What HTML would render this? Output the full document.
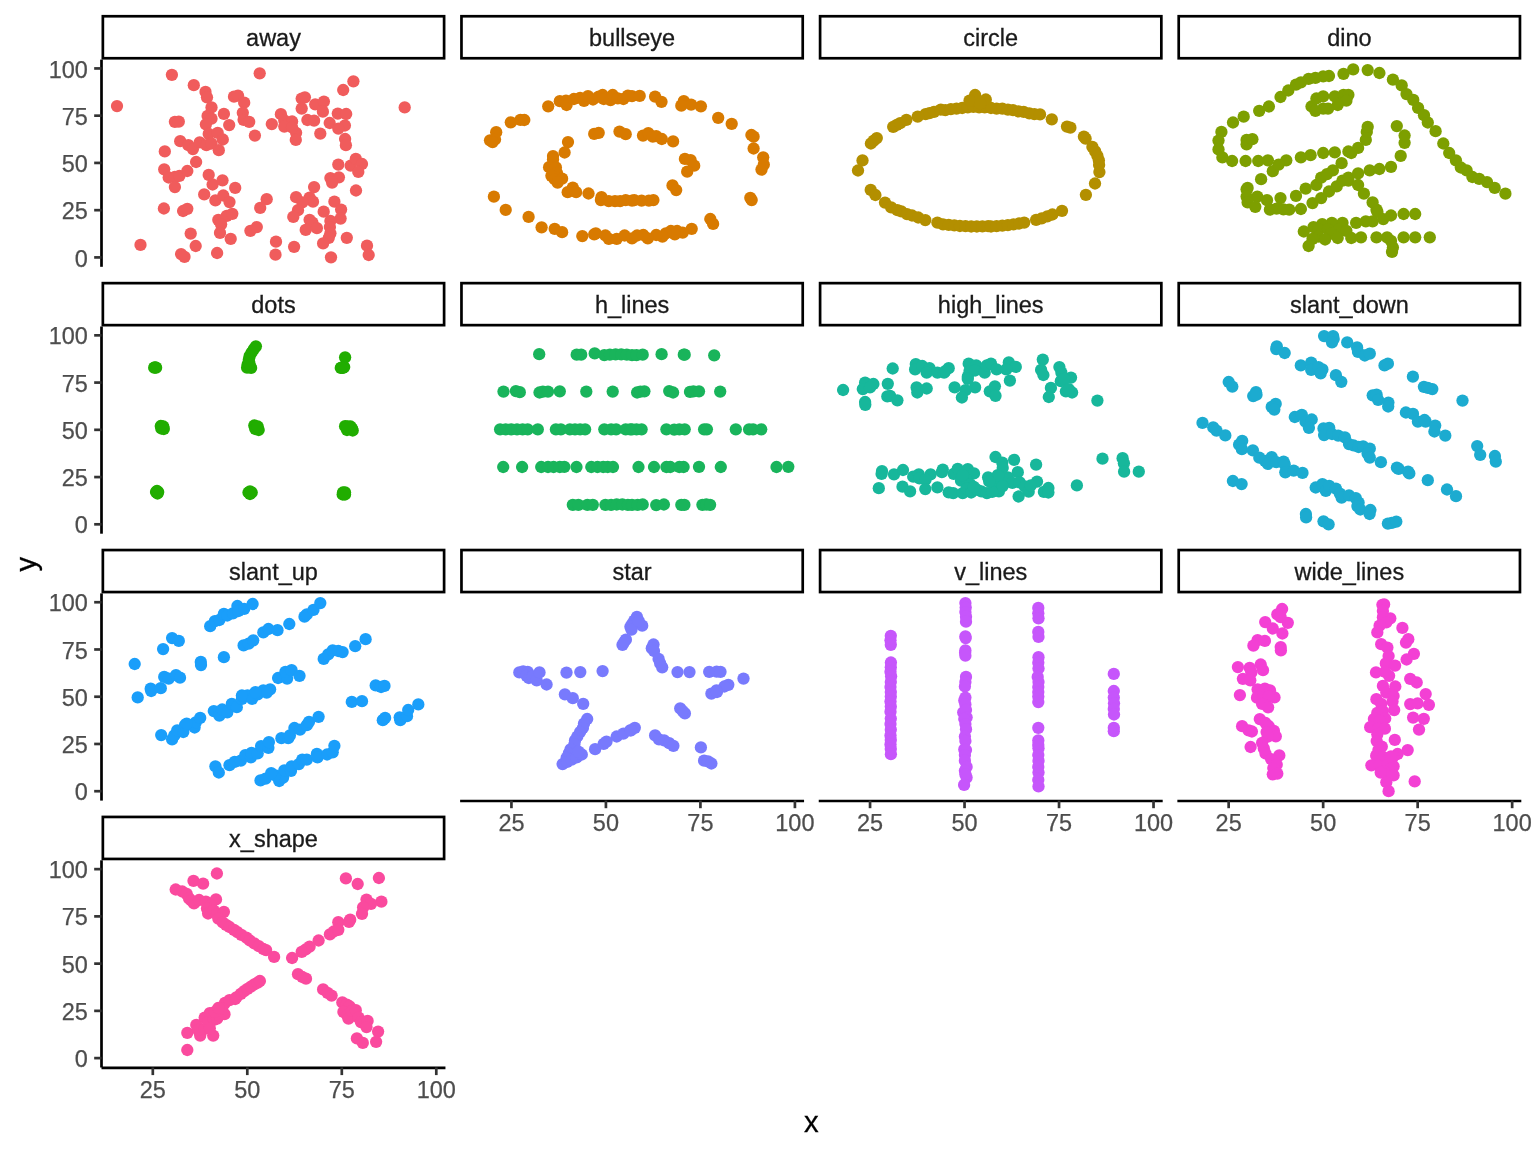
<!DOCTYPE html>
<html lang="en"><head><meta charset="utf-8"><title>Datasaurus Dozen</title>
<style>html,body{margin:0;padding:0;background:#fff}svg{display:block}text{font-family:"Liberation Sans",Arial,Helvetica,sans-serif}.st{font-size:23.47px;fill:#1a1a1a;stroke:#1a1a1a;stroke-width:.3px;text-anchor:middle}.ty{font-size:23.47px;fill:#4d4d4d;stroke:#4d4d4d;stroke-width:.25px;text-anchor:end}.tx{font-size:23.47px;fill:#4d4d4d;stroke:#4d4d4d;stroke-width:.25px;text-anchor:middle}.ti{font-size:29.33px;fill:#000;stroke:#000;stroke-width:.3px;text-anchor:middle}.ax{stroke:#000;stroke-width:2.70;fill:none;stroke-linecap:butt}.tk{stroke:#333;stroke-width:2.70;fill:none}.sb{stroke:#000;stroke-width:2.70;fill:#fff}</style></head><body>
<svg width="1536" height="1152" viewBox="0 0 1536 1152">
<rect width="1536" height="1152" fill="#fff"/>
<g id="p-away">
<g fill="#F05C5C"><circle cx="117.0" cy="106.1" r="6.15"/><circle cx="171.9" cy="74.8" r="6.15"/><circle cx="193.8" cy="85.2" r="6.15"/><circle cx="259.7" cy="73.3" r="6.15"/><circle cx="205.5" cy="91.9" r="6.15"/><circle cx="207.0" cy="97.3" r="6.15"/><circle cx="211.5" cy="107.4" r="6.15"/><circle cx="207.6" cy="115.9" r="6.15"/><circle cx="211.5" cy="118.7" r="6.15"/><circle cx="205.9" cy="124.3" r="6.15"/><circle cx="208.7" cy="133.9" r="6.15"/><circle cx="217.7" cy="132.8" r="6.15"/><circle cx="222.8" cy="139.5" r="6.15"/><circle cx="223.9" cy="113.9" r="6.15"/><circle cx="229.2" cy="125.1" r="6.15"/><circle cx="234.0" cy="96.7" r="6.15"/><circle cx="238.0" cy="95.6" r="6.15"/><circle cx="244.2" cy="102.7" r="6.15"/><circle cx="242.8" cy="112.8" r="6.15"/><circle cx="243.6" cy="119.8" r="6.15"/><circle cx="249.2" cy="121.8" r="6.15"/><circle cx="254.9" cy="135.6" r="6.15"/><circle cx="271.8" cy="124.1" r="6.15"/><circle cx="174.9" cy="121.8" r="6.15"/><circle cx="178.8" cy="121.6" r="6.15"/><circle cx="180.2" cy="141.2" r="6.15"/><circle cx="188.4" cy="145.2" r="6.15"/><circle cx="192.9" cy="149.1" r="6.15"/><circle cx="199.7" cy="142.3" r="6.15"/><circle cx="206.4" cy="145.2" r="6.15"/><circle cx="211.5" cy="143.5" r="6.15"/><circle cx="218.8" cy="150.2" r="6.15"/><circle cx="164.8" cy="151.4" r="6.15"/><circle cx="353.4" cy="81.3" r="6.15"/><circle cx="343.2" cy="90.0" r="6.15"/><circle cx="404.7" cy="107.4" r="6.15"/><circle cx="301.7" cy="98.6" r="6.15"/><circle cx="304.9" cy="97.3" r="6.15"/><circle cx="301.7" cy="108.6" r="6.15"/><circle cx="315.2" cy="104.3" r="6.15"/><circle cx="323.9" cy="101.6" r="6.15"/><circle cx="322.9" cy="111.7" r="6.15"/><circle cx="337.8" cy="113.6" r="6.15"/><circle cx="346.2" cy="114.0" r="6.15"/><circle cx="307.4" cy="120.0" r="6.15"/><circle cx="314.1" cy="120.7" r="6.15"/><circle cx="329.7" cy="123.0" r="6.15"/><circle cx="344.9" cy="125.5" r="6.15"/><circle cx="338.3" cy="128.6" r="6.15"/><circle cx="320.3" cy="133.6" r="6.15"/><circle cx="280.9" cy="114.2" r="6.15"/><circle cx="284.3" cy="120.4" r="6.15"/><circle cx="292.1" cy="121.5" r="6.15"/><circle cx="284.3" cy="126.6" r="6.15"/><circle cx="296.1" cy="132.8" r="6.15"/><circle cx="295.8" cy="139.9" r="6.15"/><circle cx="345.1" cy="139.0" r="6.15"/><circle cx="345.9" cy="145.2" r="6.15"/><circle cx="196.1" cy="162.0" r="6.15"/><circle cx="164.2" cy="169.3" r="6.15"/><circle cx="168.7" cy="177.5" r="6.15"/><circle cx="174.9" cy="177.0" r="6.15"/><circle cx="179.4" cy="175.8" r="6.15"/><circle cx="187.3" cy="171.0" r="6.15"/><circle cx="174.9" cy="187.1" r="6.15"/><circle cx="208.7" cy="174.9" r="6.15"/><circle cx="212.6" cy="184.5" r="6.15"/><circle cx="222.5" cy="180.3" r="6.15"/><circle cx="235.2" cy="187.9" r="6.15"/><circle cx="204.2" cy="194.4" r="6.15"/><circle cx="215.4" cy="200.4" r="6.15"/><circle cx="223.3" cy="195.5" r="6.15"/><circle cx="229.5" cy="202.1" r="6.15"/><circle cx="266.7" cy="199.2" r="6.15"/><circle cx="260.2" cy="207.9" r="6.15"/><circle cx="163.9" cy="208.5" r="6.15"/><circle cx="183.1" cy="211.0" r="6.15"/><circle cx="187.3" cy="208.8" r="6.15"/><circle cx="218.3" cy="219.8" r="6.15"/><circle cx="226.7" cy="215.8" r="6.15"/><circle cx="232.3" cy="213.8" r="6.15"/><circle cx="221.1" cy="224.3" r="6.15"/><circle cx="220.0" cy="232.9" r="6.15"/><circle cx="230.7" cy="238.9" r="6.15"/><circle cx="250.4" cy="230.8" r="6.15"/><circle cx="256.8" cy="227.1" r="6.15"/><circle cx="190.7" cy="233.6" r="6.15"/><circle cx="195.7" cy="246.0" r="6.15"/><circle cx="140.5" cy="244.9" r="6.15"/><circle cx="181.1" cy="254.1" r="6.15"/><circle cx="184.5" cy="256.9" r="6.15"/><circle cx="217.1" cy="253.0" r="6.15"/><circle cx="338.3" cy="164.6" r="6.15"/><circle cx="350.7" cy="165.7" r="6.15"/><circle cx="355.8" cy="158.9" r="6.15"/><circle cx="362.0" cy="164.0" r="6.15"/><circle cx="358.3" cy="171.9" r="6.15"/><circle cx="330.4" cy="178.1" r="6.15"/><circle cx="338.9" cy="177.3" r="6.15"/><circle cx="332.1" cy="182.6" r="6.15"/><circle cx="356.0" cy="190.5" r="6.15"/><circle cx="314.1" cy="187.1" r="6.15"/><circle cx="296.1" cy="197.2" r="6.15"/><circle cx="309.6" cy="197.6" r="6.15"/><circle cx="313.0" cy="201.7" r="6.15"/><circle cx="302.3" cy="202.3" r="6.15"/><circle cx="298.0" cy="210.2" r="6.15"/><circle cx="293.3" cy="216.9" r="6.15"/><circle cx="334.4" cy="201.7" r="6.15"/><circle cx="341.1" cy="209.6" r="6.15"/><circle cx="323.7" cy="211.7" r="6.15"/><circle cx="340.6" cy="218.6" r="6.15"/><circle cx="330.4" cy="220.9" r="6.15"/><circle cx="329.9" cy="227.1" r="6.15"/><circle cx="309.6" cy="219.8" r="6.15"/><circle cx="312.4" cy="222.6" r="6.15"/><circle cx="305.7" cy="229.9" r="6.15"/><circle cx="316.9" cy="228.2" r="6.15"/><circle cx="330.4" cy="233.3" r="6.15"/><circle cx="328.8" cy="237.8" r="6.15"/><circle cx="323.1" cy="243.4" r="6.15"/><circle cx="346.8" cy="237.8" r="6.15"/><circle cx="294.1" cy="246.8" r="6.15"/><circle cx="276.0" cy="241.7" r="6.15"/><circle cx="275.5" cy="254.7" r="6.15"/><circle cx="367.0" cy="245.7" r="6.15"/><circle cx="368.7" cy="255.0" r="6.15"/><circle cx="331.0" cy="257.3" r="6.15"/><circle cx="292.1" cy="127.5" r="6.15"/></g>
<rect class="sb" x="102.85" y="16.25" width="341.25" height="42.00"/>
<text class="st" x="273.48" y="45.80">away</text>
<path class="ax" d="M101.50 59.60V266.80"/>
<path class="tk" d="M94.17 257.41H101.50"/>
<text class="ty" x="87.90" y="266.51">0</text>
<path class="tk" d="M94.17 210.17H101.50"/>
<text class="ty" x="87.90" y="219.27">25</text>
<path class="tk" d="M94.17 162.93H101.50"/>
<text class="ty" x="87.90" y="172.03">50</text>
<path class="tk" d="M94.17 115.68H101.50"/>
<text class="ty" x="87.90" y="124.78">75</text>
<path class="tk" d="M94.17 68.44H101.50"/>
<text class="ty" x="87.90" y="77.54">100</text>
</g>
<g id="p-bullseye">
<g fill="#D87A00"><circle cx="548.2" cy="106.3" r="6.15"/><circle cx="559.8" cy="101.2" r="6.15"/><circle cx="566.0" cy="100.7" r="6.15"/><circle cx="566.6" cy="105.0" r="6.15"/><circle cx="573.9" cy="99.0" r="6.15"/><circle cx="580.1" cy="97.9" r="6.15"/><circle cx="584.0" cy="100.9" r="6.15"/><circle cx="588.0" cy="96.2" r="6.15"/><circle cx="593.0" cy="99.5" r="6.15"/><circle cx="598.7" cy="96.7" r="6.15"/><circle cx="602.6" cy="95.0" r="6.15"/><circle cx="603.7" cy="99.0" r="6.15"/><circle cx="610.5" cy="100.1" r="6.15"/><circle cx="612.7" cy="95.0" r="6.15"/><circle cx="617.8" cy="98.4" r="6.15"/><circle cx="623.4" cy="99.0" r="6.15"/><circle cx="627.9" cy="95.6" r="6.15"/><circle cx="632.0" cy="96.2" r="6.15"/><circle cx="510.8" cy="122.3" r="6.15"/><circle cx="520.4" cy="119.8" r="6.15"/><circle cx="524.3" cy="120.0" r="6.15"/><circle cx="496.2" cy="132.2" r="6.15"/><circle cx="490.0" cy="140.3" r="6.15"/><circle cx="495.0" cy="139.5" r="6.15"/><circle cx="492.6" cy="142.1" r="6.15"/><circle cx="594.2" cy="133.9" r="6.15"/><circle cx="598.7" cy="132.8" r="6.15"/><circle cx="619.5" cy="131.6" r="6.15"/><circle cx="625.7" cy="134.2" r="6.15"/><circle cx="568.0" cy="142.1" r="6.15"/><circle cx="564.6" cy="152.5" r="6.15"/><circle cx="639.7" cy="95.9" r="6.15"/><circle cx="655.1" cy="96.7" r="6.15"/><circle cx="661.5" cy="101.8" r="6.15"/><circle cx="683.8" cy="101.2" r="6.15"/><circle cx="681.3" cy="105.7" r="6.15"/><circle cx="691.1" cy="104.6" r="6.15"/><circle cx="700.9" cy="106.3" r="6.15"/><circle cx="718.2" cy="117.8" r="6.15"/><circle cx="731.7" cy="123.8" r="6.15"/><circle cx="751.4" cy="135.0" r="6.15"/><circle cx="753.6" cy="136.7" r="6.15"/><circle cx="753.6" cy="148.5" r="6.15"/><circle cx="643.0" cy="135.6" r="6.15"/><circle cx="648.3" cy="133.1" r="6.15"/><circle cx="652.8" cy="136.7" r="6.15"/><circle cx="656.2" cy="136.2" r="6.15"/><circle cx="661.8" cy="139.0" r="6.15"/><circle cx="673.1" cy="141.4" r="6.15"/><circle cx="553.0" cy="156.1" r="6.15"/><circle cx="553.0" cy="159.5" r="6.15"/><circle cx="549.1" cy="167.2" r="6.15"/><circle cx="555.9" cy="167.4" r="6.15"/><circle cx="557.0" cy="173.0" r="6.15"/><circle cx="551.4" cy="175.8" r="6.15"/><circle cx="554.7" cy="179.2" r="6.15"/><circle cx="562.1" cy="178.7" r="6.15"/><circle cx="557.6" cy="182.6" r="6.15"/><circle cx="572.8" cy="187.7" r="6.15"/><circle cx="567.7" cy="192.2" r="6.15"/><circle cx="576.1" cy="192.2" r="6.15"/><circle cx="588.5" cy="193.5" r="6.15"/><circle cx="601.5" cy="197.2" r="6.15"/><circle cx="600.9" cy="200.1" r="6.15"/><circle cx="608.8" cy="201.2" r="6.15"/><circle cx="615.0" cy="201.2" r="6.15"/><circle cx="620.1" cy="201.2" r="6.15"/><circle cx="625.7" cy="200.1" r="6.15"/><circle cx="632.0" cy="200.6" r="6.15"/><circle cx="493.9" cy="196.7" r="6.15"/><circle cx="505.7" cy="209.9" r="6.15"/><circle cx="528.6" cy="216.9" r="6.15"/><circle cx="541.6" cy="227.3" r="6.15"/><circle cx="554.7" cy="228.8" r="6.15"/><circle cx="562.1" cy="232.2" r="6.15"/><circle cx="582.3" cy="236.1" r="6.15"/><circle cx="594.2" cy="234.4" r="6.15"/><circle cx="595.8" cy="233.3" r="6.15"/><circle cx="605.4" cy="235.5" r="6.15"/><circle cx="608.8" cy="238.9" r="6.15"/><circle cx="616.7" cy="238.9" r="6.15"/><circle cx="624.6" cy="235.5" r="6.15"/><circle cx="632.0" cy="238.3" r="6.15"/><circle cx="684.9" cy="158.9" r="6.15"/><circle cx="690.6" cy="160.1" r="6.15"/><circle cx="694.2" cy="165.7" r="6.15"/><circle cx="687.2" cy="171.7" r="6.15"/><circle cx="672.5" cy="185.4" r="6.15"/><circle cx="676.2" cy="190.1" r="6.15"/><circle cx="634.3" cy="200.1" r="6.15"/><circle cx="641.6" cy="200.6" r="6.15"/><circle cx="648.9" cy="200.6" r="6.15"/><circle cx="653.4" cy="200.1" r="6.15"/><circle cx="763.2" cy="157.3" r="6.15"/><circle cx="763.8" cy="164.6" r="6.15"/><circle cx="761.5" cy="169.6" r="6.15"/><circle cx="750.3" cy="197.8" r="6.15"/><circle cx="751.7" cy="200.1" r="6.15"/><circle cx="710.3" cy="219.0" r="6.15"/><circle cx="713.1" cy="223.9" r="6.15"/><circle cx="691.7" cy="228.8" r="6.15"/><circle cx="682.7" cy="232.7" r="6.15"/><circle cx="677.1" cy="231.0" r="6.15"/><circle cx="670.9" cy="231.0" r="6.15"/><circle cx="674.8" cy="234.4" r="6.15"/><circle cx="665.8" cy="233.3" r="6.15"/><circle cx="662.4" cy="236.7" r="6.15"/><circle cx="656.2" cy="235.0" r="6.15"/><circle cx="647.8" cy="238.3" r="6.15"/><circle cx="643.3" cy="235.0" r="6.15"/><circle cx="637.1" cy="235.5" r="6.15"/></g>
<rect class="sb" x="461.47" y="16.25" width="341.25" height="42.00"/>
<text class="st" x="632.10" y="45.80">bullseye</text>
</g>
<g id="p-circle">
<g fill="#B38F00"><circle cx="870.9" cy="143.5" r="6.15"/><circle cx="873.8" cy="140.7" r="6.15"/><circle cx="876.8" cy="138.1" r="6.15"/><circle cx="893.2" cy="126.8" r="6.15"/><circle cx="896.8" cy="124.9" r="6.15"/><circle cx="900.2" cy="123.2" r="6.15"/><circle cx="906.4" cy="119.8" r="6.15"/><circle cx="917.7" cy="116.7" r="6.15"/><circle cx="925.6" cy="114.2" r="6.15"/><circle cx="929.5" cy="113.1" r="6.15"/><circle cx="934.0" cy="111.9" r="6.15"/><circle cx="940.8" cy="109.7" r="6.15"/><circle cx="945.3" cy="110.2" r="6.15"/><circle cx="950.9" cy="109.1" r="6.15"/><circle cx="956.5" cy="108.6" r="6.15"/><circle cx="962.2" cy="108.0" r="6.15"/><circle cx="967.8" cy="107.4" r="6.15"/><circle cx="973.4" cy="106.9" r="6.15"/><circle cx="979.1" cy="107.4" r="6.15"/><circle cx="984.7" cy="107.4" r="6.15"/><circle cx="991.0" cy="108.0" r="6.15"/><circle cx="975.1" cy="95.0" r="6.15"/><circle cx="969.5" cy="100.7" r="6.15"/><circle cx="985.8" cy="99.5" r="6.15"/><circle cx="980.2" cy="103.5" r="6.15"/><circle cx="996.6" cy="108.6" r="6.15"/><circle cx="1002.3" cy="108.6" r="6.15"/><circle cx="1007.9" cy="109.7" r="6.15"/><circle cx="1013.0" cy="110.2" r="6.15"/><circle cx="1018.6" cy="111.4" r="6.15"/><circle cx="1023.7" cy="111.9" r="6.15"/><circle cx="1029.3" cy="113.3" r="6.15"/><circle cx="1034.4" cy="114.2" r="6.15"/><circle cx="1040.0" cy="114.4" r="6.15"/><circle cx="1051.8" cy="119.3" r="6.15"/><circle cx="1067.0" cy="126.6" r="6.15"/><circle cx="1070.4" cy="127.7" r="6.15"/><circle cx="1083.9" cy="136.7" r="6.15"/><circle cx="1085.6" cy="138.7" r="6.15"/><circle cx="1092.4" cy="146.9" r="6.15"/><circle cx="1095.2" cy="151.4" r="6.15"/><circle cx="1097.4" cy="155.9" r="6.15"/><circle cx="1098.9" cy="160.4" r="6.15"/><circle cx="862.5" cy="160.4" r="6.15"/><circle cx="858.0" cy="170.5" r="6.15"/><circle cx="870.7" cy="189.9" r="6.15"/><circle cx="875.4" cy="195.0" r="6.15"/><circle cx="885.0" cy="202.6" r="6.15"/><circle cx="891.2" cy="207.4" r="6.15"/><circle cx="897.4" cy="210.2" r="6.15"/><circle cx="901.3" cy="211.3" r="6.15"/><circle cx="907.0" cy="214.1" r="6.15"/><circle cx="912.0" cy="215.5" r="6.15"/><circle cx="925.3" cy="220.1" r="6.15"/><circle cx="937.4" cy="222.6" r="6.15"/><circle cx="943.0" cy="224.3" r="6.15"/><circle cx="948.7" cy="224.8" r="6.15"/><circle cx="954.3" cy="225.4" r="6.15"/><circle cx="959.9" cy="226.0" r="6.15"/><circle cx="965.5" cy="226.2" r="6.15"/><circle cx="971.2" cy="226.5" r="6.15"/><circle cx="976.8" cy="226.5" r="6.15"/><circle cx="982.4" cy="226.3" r="6.15"/><circle cx="988.1" cy="226.2" r="6.15"/><circle cx="991.0" cy="226.5" r="6.15"/><circle cx="996.6" cy="226.2" r="6.15"/><circle cx="1002.3" cy="225.7" r="6.15"/><circle cx="1007.9" cy="225.1" r="6.15"/><circle cx="1013.5" cy="224.3" r="6.15"/><circle cx="1019.2" cy="223.5" r="6.15"/><circle cx="1024.2" cy="222.6" r="6.15"/><circle cx="1036.1" cy="219.8" r="6.15"/><circle cx="1041.7" cy="218.3" r="6.15"/><circle cx="1047.3" cy="216.4" r="6.15"/><circle cx="1052.4" cy="214.5" r="6.15"/><circle cx="1062.0" cy="210.8" r="6.15"/><circle cx="1085.9" cy="194.8" r="6.15"/><circle cx="1095.0" cy="183.5" r="6.15"/><circle cx="1099.4" cy="172.1" r="6.15"/><circle cx="1099.1" cy="165.1" r="6.15"/><circle cx="918.2" cy="217.5" r="6.15"/></g>
<rect class="sb" x="820.09" y="16.25" width="341.25" height="42.00"/>
<text class="st" x="990.72" y="45.80">circle</text>
</g>
<g id="p-dino">
<g fill="#7D9F00"><circle cx="1343.5" cy="73.8" r="6.15"/><circle cx="1329.0" cy="76.0" r="6.15"/><circle cx="1308.6" cy="78.9" r="6.15"/><circle cx="1296.0" cy="84.7" r="6.15"/><circle cx="1288.3" cy="90.5" r="6.15"/><circle cx="1280.5" cy="97.0" r="6.15"/><circle cx="1268.9" cy="106.5" r="6.15"/><circle cx="1259.2" cy="110.8" r="6.15"/><circle cx="1243.7" cy="116.7" r="6.15"/><circle cx="1233.0" cy="122.5" r="6.15"/><circle cx="1221.4" cy="131.9" r="6.15"/><circle cx="1218.5" cy="140.6" r="6.15"/><circle cx="1218.5" cy="149.4" r="6.15"/><circle cx="1222.4" cy="157.4" r="6.15"/><circle cx="1232.1" cy="161.0" r="6.15"/><circle cx="1245.6" cy="161.0" r="6.15"/><circle cx="1258.2" cy="161.0" r="6.15"/><circle cx="1267.9" cy="160.3" r="6.15"/><circle cx="1286.3" cy="160.3" r="6.15"/><circle cx="1300.9" cy="157.4" r="6.15"/><circle cx="1310.6" cy="155.2" r="6.15"/><circle cx="1323.2" cy="153.0" r="6.15"/><circle cx="1334.8" cy="152.3" r="6.15"/><circle cx="1348.4" cy="151.5" r="6.15"/><circle cx="1358.1" cy="147.9" r="6.15"/><circle cx="1365.8" cy="139.9" r="6.15"/><circle cx="1366.8" cy="131.9" r="6.15"/><circle cx="1367.7" cy="126.8" r="6.15"/><circle cx="1351.3" cy="153.0" r="6.15"/><circle cx="1341.6" cy="163.2" r="6.15"/><circle cx="1332.9" cy="170.4" r="6.15"/><circle cx="1316.4" cy="185.0" r="6.15"/><circle cx="1321.2" cy="177.7" r="6.15"/><circle cx="1327.0" cy="174.1" r="6.15"/><circle cx="1305.7" cy="188.6" r="6.15"/><circle cx="1296.0" cy="195.9" r="6.15"/><circle cx="1280.5" cy="198.1" r="6.15"/><circle cx="1267.0" cy="200.2" r="6.15"/><circle cx="1257.3" cy="196.6" r="6.15"/><circle cx="1247.6" cy="187.9" r="6.15"/><circle cx="1261.1" cy="179.2" r="6.15"/><circle cx="1272.8" cy="171.2" r="6.15"/><circle cx="1278.6" cy="164.6" r="6.15"/><circle cx="1246.6" cy="189.3" r="6.15"/><circle cx="1246.6" cy="196.6" r="6.15"/><circle cx="1247.6" cy="202.4" r="6.15"/><circle cx="1255.3" cy="206.8" r="6.15"/><circle cx="1269.9" cy="209.7" r="6.15"/><circle cx="1289.2" cy="209.7" r="6.15"/><circle cx="1300.9" cy="209.0" r="6.15"/><circle cx="1312.5" cy="203.1" r="6.15"/><circle cx="1321.2" cy="198.1" r="6.15"/><circle cx="1329.0" cy="191.5" r="6.15"/><circle cx="1336.7" cy="186.4" r="6.15"/><circle cx="1342.5" cy="180.6" r="6.15"/><circle cx="1348.4" cy="177.7" r="6.15"/><circle cx="1358.1" cy="173.3" r="6.15"/><circle cx="1369.7" cy="170.4" r="6.15"/><circle cx="1379.4" cy="169.0" r="6.15"/><circle cx="1391.0" cy="166.8" r="6.15"/><circle cx="1400.7" cy="155.9" r="6.15"/><circle cx="1404.6" cy="142.8" r="6.15"/><circle cx="1404.6" cy="135.5" r="6.15"/><circle cx="1396.8" cy="126.1" r="6.15"/><circle cx="1311.5" cy="106.5" r="6.15"/><circle cx="1316.4" cy="98.5" r="6.15"/><circle cx="1323.2" cy="96.3" r="6.15"/><circle cx="1334.8" cy="96.3" r="6.15"/><circle cx="1343.5" cy="94.8" r="6.15"/><circle cx="1348.4" cy="94.8" r="6.15"/><circle cx="1346.4" cy="100.7" r="6.15"/><circle cx="1337.7" cy="105.0" r="6.15"/><circle cx="1328.0" cy="108.7" r="6.15"/><circle cx="1323.2" cy="108.7" r="6.15"/><circle cx="1315.4" cy="110.8" r="6.15"/><circle cx="1246.6" cy="144.3" r="6.15"/><circle cx="1246.6" cy="139.9" r="6.15"/><circle cx="1252.4" cy="139.2" r="6.15"/><circle cx="1353.2" cy="69.4" r="6.15"/><circle cx="1367.7" cy="70.1" r="6.15"/><circle cx="1379.4" cy="73.0" r="6.15"/><circle cx="1392.9" cy="79.6" r="6.15"/><circle cx="1401.7" cy="85.4" r="6.15"/><circle cx="1406.5" cy="94.1" r="6.15"/><circle cx="1413.3" cy="99.9" r="6.15"/><circle cx="1418.1" cy="107.9" r="6.15"/><circle cx="1424.0" cy="115.2" r="6.15"/><circle cx="1427.8" cy="122.5" r="6.15"/><circle cx="1435.6" cy="131.2" r="6.15"/><circle cx="1443.3" cy="143.5" r="6.15"/><circle cx="1449.2" cy="153.0" r="6.15"/><circle cx="1455.9" cy="160.3" r="6.15"/><circle cx="1460.8" cy="167.5" r="6.15"/><circle cx="1466.6" cy="170.4" r="6.15"/><circle cx="1472.4" cy="177.0" r="6.15"/><circle cx="1487.0" cy="182.1" r="6.15"/><circle cx="1494.7" cy="187.9" r="6.15"/><circle cx="1505.4" cy="193.7" r="6.15"/><circle cx="1348.4" cy="180.6" r="6.15"/><circle cx="1358.1" cy="185.0" r="6.15"/><circle cx="1363.9" cy="193.7" r="6.15"/><circle cx="1372.6" cy="202.4" r="6.15"/><circle cx="1376.5" cy="209.7" r="6.15"/><circle cx="1377.4" cy="211.9" r="6.15"/><circle cx="1415.2" cy="214.0" r="6.15"/><circle cx="1403.6" cy="214.0" r="6.15"/><circle cx="1391.0" cy="215.5" r="6.15"/><circle cx="1383.3" cy="219.1" r="6.15"/><circle cx="1372.6" cy="221.3" r="6.15"/><circle cx="1365.8" cy="221.3" r="6.15"/><circle cx="1356.1" cy="222.8" r="6.15"/><circle cx="1342.5" cy="222.8" r="6.15"/><circle cx="1331.9" cy="222.8" r="6.15"/><circle cx="1322.2" cy="224.2" r="6.15"/><circle cx="1313.5" cy="227.1" r="6.15"/><circle cx="1303.8" cy="231.5" r="6.15"/><circle cx="1318.3" cy="229.3" r="6.15"/><circle cx="1328.0" cy="229.3" r="6.15"/><circle cx="1338.7" cy="229.3" r="6.15"/><circle cx="1346.4" cy="230.8" r="6.15"/><circle cx="1330.9" cy="233.7" r="6.15"/><circle cx="1318.3" cy="236.6" r="6.15"/><circle cx="1312.5" cy="238.8" r="6.15"/><circle cx="1308.6" cy="246.0" r="6.15"/><circle cx="1325.1" cy="239.5" r="6.15"/><circle cx="1337.7" cy="238.0" r="6.15"/><circle cx="1351.3" cy="238.0" r="6.15"/><circle cx="1361.0" cy="237.3" r="6.15"/><circle cx="1376.5" cy="237.3" r="6.15"/><circle cx="1387.1" cy="237.3" r="6.15"/><circle cx="1403.6" cy="237.3" r="6.15"/><circle cx="1415.2" cy="237.3" r="6.15"/><circle cx="1429.8" cy="237.3" r="6.15"/><circle cx="1391.0" cy="240.9" r="6.15"/><circle cx="1392.9" cy="247.5" r="6.15"/><circle cx="1392.0" cy="251.8" r="6.15"/><circle cx="1276.6" cy="208.7" r="6.15"/><circle cx="1283.4" cy="209.4" r="6.15"/><circle cx="1479.2" cy="178.9" r="6.15"/><circle cx="1323.2" cy="76.4" r="6.15"/><circle cx="1315.4" cy="77.9" r="6.15"/><circle cx="1300.9" cy="82.3" r="6.15"/></g>
<rect class="sb" x="1178.71" y="16.25" width="341.25" height="42.00"/>
<text class="st" x="1349.34" y="45.80">dino</text>
</g>
<g id="p-dots">
<g fill="#21AD00"><circle cx="154.2" cy="367.7" r="6.15"/><circle cx="156.1" cy="367.7" r="6.15"/><circle cx="155.1" cy="367.4" r="6.15"/><circle cx="255.9" cy="346.3" r="6.15"/><circle cx="253.9" cy="349.1" r="6.15"/><circle cx="251.6" cy="352.5" r="6.15"/><circle cx="249.6" cy="356.2" r="6.15"/><circle cx="248.8" cy="359.8" r="6.15"/><circle cx="247.7" cy="364.3" r="6.15"/><circle cx="247.1" cy="367.7" r="6.15"/><circle cx="251.1" cy="367.9" r="6.15"/><circle cx="249.4" cy="363.2" r="6.15"/><circle cx="160.8" cy="426.0" r="6.15"/><circle cx="163.8" cy="429.0" r="6.15"/><circle cx="162.3" cy="427.4" r="6.15"/><circle cx="254.3" cy="425.5" r="6.15"/><circle cx="256.5" cy="427.7" r="6.15"/><circle cx="258.7" cy="430.0" r="6.15"/><circle cx="156.0" cy="492.0" r="6.15"/><circle cx="158.2" cy="492.1" r="6.15"/><circle cx="157.1" cy="492.0" r="6.15"/><circle cx="248.5" cy="492.5" r="6.15"/><circle cx="251.7" cy="492.5" r="6.15"/><circle cx="250.1" cy="492.5" r="6.15"/><circle cx="345.1" cy="426.2" r="6.15"/><circle cx="352.7" cy="430.5" r="6.15"/><circle cx="349.0" cy="428.0" r="6.15"/><circle cx="342.7" cy="494.5" r="6.15"/><circle cx="345.0" cy="492.3" r="6.15"/><circle cx="343.9" cy="493.4" r="6.15"/><circle cx="345.1" cy="357.3" r="6.15"/><circle cx="341.7" cy="367.7" r="6.15"/><circle cx="344.2" cy="367.1" r="6.15"/><circle cx="342.8" cy="367.9" r="6.15"/><circle cx="161.3" cy="428.5" r="6.15"/><circle cx="163.3" cy="426.5" r="6.15"/><circle cx="255.3" cy="429.0" r="6.15"/><circle cx="257.7" cy="426.5" r="6.15"/><circle cx="347.0" cy="430.0" r="6.15"/><circle cx="350.5" cy="426.5" r="6.15"/><circle cx="352.0" cy="428.5" r="6.15"/><circle cx="347.5" cy="426.5" r="6.15"/><circle cx="157.0" cy="491.0" r="6.15"/><circle cx="157.5" cy="493.5" r="6.15"/><circle cx="250.0" cy="491.5" r="6.15"/><circle cx="250.0" cy="494.0" r="6.15"/><circle cx="343.0" cy="492.5" r="6.15"/><circle cx="345.0" cy="494.5" r="6.15"/><circle cx="344.5" cy="493.5" r="6.15"/><circle cx="340.8" cy="367.9" r="6.15"/></g>
<rect class="sb" x="102.85" y="283.15" width="341.25" height="42.00"/>
<text class="st" x="273.48" y="312.70">dots</text>
<path class="ax" d="M101.50 326.50V533.70"/>
<path class="tk" d="M94.17 524.31H101.50"/>
<text class="ty" x="87.90" y="533.41">0</text>
<path class="tk" d="M94.17 477.07H101.50"/>
<text class="ty" x="87.90" y="486.17">25</text>
<path class="tk" d="M94.17 429.83H101.50"/>
<text class="ty" x="87.90" y="438.93">50</text>
<path class="tk" d="M94.17 382.58H101.50"/>
<text class="ty" x="87.90" y="391.68">75</text>
<path class="tk" d="M94.17 335.34H101.50"/>
<text class="ty" x="87.90" y="344.44">100</text>
</g>
<g id="p-h_lines">
<g fill="#19B45B"><circle cx="539.2" cy="354.2" r="6.15"/><circle cx="576.7" cy="354.7" r="6.15"/><circle cx="581.2" cy="354.7" r="6.15"/><circle cx="594.7" cy="353.4" r="6.15"/><circle cx="604.3" cy="355.1" r="6.15"/><circle cx="609.9" cy="354.7" r="6.15"/><circle cx="615.6" cy="354.4" r="6.15"/><circle cx="621.2" cy="354.4" r="6.15"/><circle cx="626.8" cy="354.7" r="6.15"/><circle cx="632.0" cy="355.1" r="6.15"/><circle cx="503.5" cy="391.6" r="6.15"/><circle cx="515.9" cy="391.1" r="6.15"/><circle cx="519.8" cy="392.2" r="6.15"/><circle cx="539.5" cy="392.5" r="6.15"/><circle cx="542.9" cy="391.6" r="6.15"/><circle cx="548.0" cy="391.6" r="6.15"/><circle cx="559.8" cy="391.3" r="6.15"/><circle cx="586.3" cy="391.6" r="6.15"/><circle cx="612.7" cy="391.6" r="6.15"/><circle cx="636.5" cy="355.1" r="6.15"/><circle cx="642.7" cy="354.7" r="6.15"/><circle cx="661.6" cy="354.2" r="6.15"/><circle cx="683.8" cy="354.7" r="6.15"/><circle cx="684.7" cy="354.7" r="6.15"/><circle cx="714.2" cy="355.3" r="6.15"/><circle cx="637.1" cy="392.5" r="6.15"/><circle cx="640.4" cy="391.6" r="6.15"/><circle cx="644.4" cy="391.3" r="6.15"/><circle cx="669.2" cy="391.1" r="6.15"/><circle cx="673.1" cy="392.5" r="6.15"/><circle cx="690.0" cy="391.9" r="6.15"/><circle cx="693.4" cy="391.3" r="6.15"/><circle cx="699.0" cy="391.3" r="6.15"/><circle cx="720.2" cy="391.6" r="6.15"/><circle cx="500.1" cy="429.3" r="6.15"/><circle cx="505.7" cy="429.3" r="6.15"/><circle cx="511.4" cy="429.3" r="6.15"/><circle cx="517.0" cy="429.3" r="6.15"/><circle cx="522.6" cy="429.3" r="6.15"/><circle cx="527.7" cy="429.3" r="6.15"/><circle cx="537.8" cy="429.3" r="6.15"/><circle cx="555.9" cy="429.3" r="6.15"/><circle cx="560.9" cy="429.3" r="6.15"/><circle cx="569.9" cy="429.3" r="6.15"/><circle cx="575.0" cy="429.3" r="6.15"/><circle cx="580.1" cy="429.3" r="6.15"/><circle cx="585.1" cy="429.3" r="6.15"/><circle cx="604.3" cy="429.3" r="6.15"/><circle cx="611.1" cy="429.3" r="6.15"/><circle cx="616.1" cy="429.3" r="6.15"/><circle cx="625.7" cy="429.3" r="6.15"/><circle cx="630.2" cy="429.3" r="6.15"/><circle cx="503.2" cy="467.0" r="6.15"/><circle cx="522.1" cy="467.0" r="6.15"/><circle cx="541.2" cy="467.0" r="6.15"/><circle cx="548.0" cy="467.0" r="6.15"/><circle cx="553.6" cy="467.0" r="6.15"/><circle cx="559.8" cy="467.0" r="6.15"/><circle cx="564.3" cy="466.8" r="6.15"/><circle cx="576.5" cy="467.0" r="6.15"/><circle cx="591.3" cy="467.0" r="6.15"/><circle cx="597.5" cy="467.0" r="6.15"/><circle cx="603.2" cy="467.0" r="6.15"/><circle cx="607.7" cy="467.0" r="6.15"/><circle cx="613.0" cy="467.0" r="6.15"/><circle cx="572.8" cy="504.8" r="6.15"/><circle cx="578.4" cy="504.8" r="6.15"/><circle cx="587.4" cy="504.8" r="6.15"/><circle cx="592.8" cy="504.8" r="6.15"/><circle cx="605.4" cy="504.8" r="6.15"/><circle cx="611.1" cy="504.8" r="6.15"/><circle cx="616.7" cy="504.5" r="6.15"/><circle cx="622.3" cy="504.5" r="6.15"/><circle cx="627.9" cy="504.8" r="6.15"/><circle cx="632.0" cy="504.8" r="6.15"/><circle cx="632.0" cy="429.3" r="6.15"/><circle cx="636.5" cy="429.3" r="6.15"/><circle cx="641.6" cy="429.3" r="6.15"/><circle cx="666.4" cy="429.3" r="6.15"/><circle cx="674.2" cy="429.6" r="6.15"/><circle cx="679.3" cy="429.3" r="6.15"/><circle cx="684.7" cy="429.3" r="6.15"/><circle cx="704.1" cy="429.3" r="6.15"/><circle cx="706.9" cy="429.3" r="6.15"/><circle cx="735.8" cy="429.3" r="6.15"/><circle cx="749.1" cy="429.3" r="6.15"/><circle cx="753.1" cy="429.3" r="6.15"/><circle cx="761.2" cy="429.3" r="6.15"/><circle cx="638.5" cy="467.0" r="6.15"/><circle cx="654.0" cy="467.0" r="6.15"/><circle cx="666.4" cy="467.0" r="6.15"/><circle cx="670.3" cy="467.0" r="6.15"/><circle cx="679.3" cy="467.0" r="6.15"/><circle cx="683.6" cy="467.0" r="6.15"/><circle cx="699.0" cy="466.8" r="6.15"/><circle cx="720.8" cy="467.0" r="6.15"/><circle cx="776.5" cy="467.0" r="6.15"/><circle cx="788.3" cy="466.8" r="6.15"/><circle cx="637.6" cy="504.8" r="6.15"/><circle cx="642.7" cy="504.5" r="6.15"/><circle cx="656.2" cy="505.1" r="6.15"/><circle cx="663.9" cy="504.5" r="6.15"/><circle cx="681.3" cy="504.8" r="6.15"/><circle cx="684.4" cy="504.8" r="6.15"/><circle cx="702.4" cy="504.8" r="6.15"/><circle cx="706.3" cy="504.5" r="6.15"/><circle cx="710.1" cy="504.8" r="6.15"/></g>
<rect class="sb" x="461.47" y="283.15" width="341.25" height="42.00"/>
<text class="st" x="632.10" y="312.70">h_lines</text>
</g>
<g id="p-high_lines">
<g fill="#17B79B"><circle cx="843.1" cy="390.0" r="6.15"/><circle cx="865.1" cy="382.7" r="6.15"/><circle cx="873.4" cy="384.0" r="6.15"/><circle cx="862.8" cy="389.1" r="6.15"/><circle cx="870.0" cy="387.4" r="6.15"/><circle cx="865.1" cy="402.0" r="6.15"/><circle cx="865.3" cy="404.8" r="6.15"/><circle cx="892.7" cy="368.5" r="6.15"/><circle cx="887.8" cy="383.8" r="6.15"/><circle cx="887.3" cy="396.4" r="6.15"/><circle cx="890.1" cy="395.8" r="6.15"/><circle cx="897.4" cy="400.3" r="6.15"/><circle cx="915.8" cy="364.1" r="6.15"/><circle cx="915.1" cy="369.4" r="6.15"/><circle cx="922.2" cy="366.0" r="6.15"/><circle cx="929.5" cy="368.2" r="6.15"/><circle cx="926.7" cy="372.7" r="6.15"/><circle cx="937.4" cy="372.7" r="6.15"/><circle cx="944.1" cy="372.7" r="6.15"/><circle cx="948.7" cy="368.2" r="6.15"/><circle cx="945.3" cy="371.1" r="6.15"/><circle cx="916.6" cy="387.4" r="6.15"/><circle cx="917.3" cy="392.5" r="6.15"/><circle cx="926.7" cy="388.5" r="6.15"/><circle cx="954.6" cy="387.4" r="6.15"/><circle cx="968.7" cy="363.7" r="6.15"/><circle cx="976.2" cy="365.4" r="6.15"/><circle cx="967.8" cy="376.7" r="6.15"/><circle cx="969.5" cy="371.1" r="6.15"/><circle cx="975.1" cy="370.5" r="6.15"/><circle cx="975.1" cy="387.4" r="6.15"/><circle cx="965.5" cy="390.2" r="6.15"/><circle cx="961.9" cy="397.5" r="6.15"/><circle cx="984.7" cy="372.7" r="6.15"/><circle cx="986.9" cy="365.4" r="6.15"/><circle cx="989.8" cy="391.3" r="6.15"/><circle cx="991.0" cy="363.7" r="6.15"/><circle cx="996.6" cy="369.4" r="6.15"/><circle cx="1008.8" cy="362.4" r="6.15"/><circle cx="1015.8" cy="366.9" r="6.15"/><circle cx="1006.2" cy="369.4" r="6.15"/><circle cx="1009.9" cy="380.6" r="6.15"/><circle cx="994.9" cy="386.3" r="6.15"/><circle cx="995.5" cy="395.8" r="6.15"/><circle cx="1042.8" cy="359.6" r="6.15"/><circle cx="1041.1" cy="369.9" r="6.15"/><circle cx="1043.4" cy="375.0" r="6.15"/><circle cx="1059.4" cy="367.1" r="6.15"/><circle cx="1061.4" cy="372.7" r="6.15"/><circle cx="1071.0" cy="377.6" r="6.15"/><circle cx="1060.8" cy="381.2" r="6.15"/><circle cx="1064.2" cy="378.9" r="6.15"/><circle cx="1050.9" cy="387.9" r="6.15"/><circle cx="1048.8" cy="397.0" r="6.15"/><circle cx="1065.9" cy="391.3" r="6.15"/><circle cx="1072.1" cy="392.5" r="6.15"/><circle cx="1068.7" cy="389.1" r="6.15"/><circle cx="1097.4" cy="400.6" r="6.15"/><circle cx="882.0" cy="471.1" r="6.15"/><circle cx="881.6" cy="473.9" r="6.15"/><circle cx="878.8" cy="488.2" r="6.15"/><circle cx="894.0" cy="474.3" r="6.15"/><circle cx="903.0" cy="470.0" r="6.15"/><circle cx="902.5" cy="486.7" r="6.15"/><circle cx="910.1" cy="491.4" r="6.15"/><circle cx="913.2" cy="476.7" r="6.15"/><circle cx="918.8" cy="474.3" r="6.15"/><circle cx="919.4" cy="478.4" r="6.15"/><circle cx="930.6" cy="474.3" r="6.15"/><circle cx="925.6" cy="479.6" r="6.15"/><circle cx="925.3" cy="489.1" r="6.15"/><circle cx="937.4" cy="487.4" r="6.15"/><circle cx="942.8" cy="469.6" r="6.15"/><circle cx="941.9" cy="472.2" r="6.15"/><circle cx="953.7" cy="473.9" r="6.15"/><circle cx="957.7" cy="468.9" r="6.15"/><circle cx="967.8" cy="469.2" r="6.15"/><circle cx="974.0" cy="473.4" r="6.15"/><circle cx="948.7" cy="492.3" r="6.15"/><circle cx="953.2" cy="493.1" r="6.15"/><circle cx="961.0" cy="480.7" r="6.15"/><circle cx="966.7" cy="479.6" r="6.15"/><circle cx="970.1" cy="484.1" r="6.15"/><circle cx="962.7" cy="493.1" r="6.15"/><circle cx="966.7" cy="488.6" r="6.15"/><circle cx="971.2" cy="492.5" r="6.15"/><circle cx="976.8" cy="489.7" r="6.15"/><circle cx="981.3" cy="491.4" r="6.15"/><circle cx="986.9" cy="493.1" r="6.15"/><circle cx="988.1" cy="477.3" r="6.15"/><circle cx="995.5" cy="457.0" r="6.15"/><circle cx="1002.3" cy="462.7" r="6.15"/><circle cx="1014.1" cy="459.8" r="6.15"/><circle cx="1036.1" cy="464.7" r="6.15"/><circle cx="1017.8" cy="472.2" r="6.15"/><circle cx="997.8" cy="475.1" r="6.15"/><circle cx="1003.4" cy="479.6" r="6.15"/><circle cx="993.3" cy="482.9" r="6.15"/><circle cx="998.9" cy="491.4" r="6.15"/><circle cx="992.1" cy="491.9" r="6.15"/><circle cx="1007.9" cy="477.3" r="6.15"/><circle cx="1012.4" cy="482.9" r="6.15"/><circle cx="1019.7" cy="482.4" r="6.15"/><circle cx="1024.8" cy="486.3" r="6.15"/><circle cx="1028.7" cy="491.7" r="6.15"/><circle cx="1018.6" cy="496.5" r="6.15"/><circle cx="1037.0" cy="481.6" r="6.15"/><circle cx="1043.9" cy="491.9" r="6.15"/><circle cx="1048.4" cy="488.0" r="6.15"/><circle cx="1048.4" cy="492.5" r="6.15"/><circle cx="1076.9" cy="485.4" r="6.15"/><circle cx="1102.5" cy="458.7" r="6.15"/><circle cx="1122.6" cy="458.2" r="6.15"/><circle cx="1123.9" cy="463.2" r="6.15"/><circle cx="1124.1" cy="471.7" r="6.15"/><circle cx="1138.8" cy="471.7" r="6.15"/><circle cx="1002.7" cy="467.9" r="6.15"/><circle cx="998.2" cy="475.8" r="6.15"/><circle cx="989.2" cy="481.4" r="6.15"/><circle cx="967.8" cy="378.9" r="6.15"/><circle cx="962.8" cy="475.2" r="6.15"/><circle cx="973.8" cy="486.9" r="6.15"/><circle cx="1002.7" cy="486.1" r="6.15"/><circle cx="1030.8" cy="485.3" r="6.15"/></g>
<rect class="sb" x="820.09" y="283.15" width="341.25" height="42.00"/>
<text class="st" x="990.72" y="312.70">high_lines</text>
</g>
<g id="p-slant_down">
<g fill="#1CABD0"><circle cx="1324.1" cy="336.1" r="6.15"/><circle cx="1333.1" cy="336.1" r="6.15"/><circle cx="1333.7" cy="339.0" r="6.15"/><circle cx="1332.0" cy="342.3" r="6.15"/><circle cx="1347.2" cy="342.3" r="6.15"/><circle cx="1276.8" cy="346.3" r="6.15"/><circle cx="1276.2" cy="349.1" r="6.15"/><circle cx="1284.7" cy="353.0" r="6.15"/><circle cx="1300.8" cy="365.4" r="6.15"/><circle cx="1311.2" cy="362.6" r="6.15"/><circle cx="1311.2" cy="369.9" r="6.15"/><circle cx="1318.5" cy="367.1" r="6.15"/><circle cx="1322.4" cy="369.4" r="6.15"/><circle cx="1320.7" cy="373.3" r="6.15"/><circle cx="1335.9" cy="375.2" r="6.15"/><circle cx="1341.3" cy="381.8" r="6.15"/><circle cx="1228.7" cy="382.0" r="6.15"/><circle cx="1232.3" cy="386.6" r="6.15"/><circle cx="1256.0" cy="392.2" r="6.15"/><circle cx="1253.2" cy="396.1" r="6.15"/><circle cx="1256.5" cy="394.7" r="6.15"/><circle cx="1275.7" cy="403.9" r="6.15"/><circle cx="1271.7" cy="406.9" r="6.15"/><circle cx="1274.3" cy="409.6" r="6.15"/><circle cx="1294.8" cy="417.0" r="6.15"/><circle cx="1301.8" cy="414.8" r="6.15"/><circle cx="1305.5" cy="421.7" r="6.15"/><circle cx="1311.7" cy="419.5" r="6.15"/><circle cx="1202.5" cy="422.9" r="6.15"/><circle cx="1357.1" cy="347.4" r="6.15"/><circle cx="1358.0" cy="351.9" r="6.15"/><circle cx="1364.8" cy="355.5" r="6.15"/><circle cx="1369.8" cy="353.6" r="6.15"/><circle cx="1384.5" cy="365.4" r="6.15"/><circle cx="1387.9" cy="363.7" r="6.15"/><circle cx="1412.9" cy="376.7" r="6.15"/><circle cx="1423.9" cy="386.8" r="6.15"/><circle cx="1432.3" cy="389.1" r="6.15"/><circle cx="1427.8" cy="387.9" r="6.15"/><circle cx="1462.5" cy="400.6" r="6.15"/><circle cx="1372.7" cy="395.3" r="6.15"/><circle cx="1376.6" cy="394.7" r="6.15"/><circle cx="1378.1" cy="399.8" r="6.15"/><circle cx="1388.4" cy="402.6" r="6.15"/><circle cx="1388.2" cy="406.5" r="6.15"/><circle cx="1405.9" cy="412.5" r="6.15"/><circle cx="1413.0" cy="413.9" r="6.15"/><circle cx="1417.9" cy="421.7" r="6.15"/><circle cx="1424.5" cy="420.0" r="6.15"/><circle cx="1425.6" cy="421.7" r="6.15"/><circle cx="1213.2" cy="427.3" r="6.15"/><circle cx="1216.5" cy="430.6" r="6.15"/><circle cx="1225.3" cy="435.4" r="6.15"/><circle cx="1242.2" cy="440.8" r="6.15"/><circle cx="1239.1" cy="444.7" r="6.15"/><circle cx="1241.9" cy="449.2" r="6.15"/><circle cx="1252.9" cy="450.3" r="6.15"/><circle cx="1259.3" cy="457.7" r="6.15"/><circle cx="1265.0" cy="461.0" r="6.15"/><circle cx="1271.7" cy="457.1" r="6.15"/><circle cx="1267.8" cy="463.9" r="6.15"/><circle cx="1276.2" cy="462.2" r="6.15"/><circle cx="1283.6" cy="461.6" r="6.15"/><circle cx="1284.7" cy="464.4" r="6.15"/><circle cx="1285.3" cy="472.3" r="6.15"/><circle cx="1293.7" cy="470.6" r="6.15"/><circle cx="1302.5" cy="472.9" r="6.15"/><circle cx="1232.9" cy="481.0" r="6.15"/><circle cx="1241.6" cy="484.1" r="6.15"/><circle cx="1308.9" cy="427.8" r="6.15"/><circle cx="1323.5" cy="428.4" r="6.15"/><circle cx="1329.2" cy="427.8" r="6.15"/><circle cx="1324.1" cy="435.1" r="6.15"/><circle cx="1332.0" cy="434.0" r="6.15"/><circle cx="1338.2" cy="435.7" r="6.15"/><circle cx="1344.9" cy="437.4" r="6.15"/><circle cx="1349.0" cy="444.1" r="6.15"/><circle cx="1315.7" cy="487.5" r="6.15"/><circle cx="1322.4" cy="484.1" r="6.15"/><circle cx="1325.8" cy="490.9" r="6.15"/><circle cx="1329.2" cy="485.8" r="6.15"/><circle cx="1335.9" cy="488.6" r="6.15"/><circle cx="1339.9" cy="493.7" r="6.15"/><circle cx="1341.6" cy="497.6" r="6.15"/><circle cx="1349.0" cy="495.4" r="6.15"/><circle cx="1305.9" cy="514.0" r="6.15"/><circle cx="1306.1" cy="517.4" r="6.15"/><circle cx="1323.5" cy="521.3" r="6.15"/><circle cx="1328.6" cy="524.3" r="6.15"/><circle cx="1435.2" cy="425.6" r="6.15"/><circle cx="1434.4" cy="431.5" r="6.15"/><circle cx="1445.3" cy="435.7" r="6.15"/><circle cx="1477.2" cy="446.1" r="6.15"/><circle cx="1480.2" cy="454.8" r="6.15"/><circle cx="1494.9" cy="456.0" r="6.15"/><circle cx="1495.8" cy="461.6" r="6.15"/><circle cx="1353.5" cy="445.3" r="6.15"/><circle cx="1358.6" cy="447.0" r="6.15"/><circle cx="1363.1" cy="446.4" r="6.15"/><circle cx="1369.8" cy="448.7" r="6.15"/><circle cx="1367.6" cy="453.7" r="6.15"/><circle cx="1369.8" cy="457.7" r="6.15"/><circle cx="1380.9" cy="462.2" r="6.15"/><circle cx="1396.9" cy="467.6" r="6.15"/><circle cx="1398.6" cy="468.9" r="6.15"/><circle cx="1409.3" cy="473.4" r="6.15"/><circle cx="1408.1" cy="471.7" r="6.15"/><circle cx="1427.8" cy="480.2" r="6.15"/><circle cx="1447.0" cy="489.5" r="6.15"/><circle cx="1456.0" cy="496.2" r="6.15"/><circle cx="1355.8" cy="498.2" r="6.15"/><circle cx="1358.6" cy="502.7" r="6.15"/><circle cx="1357.4" cy="506.1" r="6.15"/><circle cx="1360.3" cy="509.5" r="6.15"/><circle cx="1370.4" cy="510.0" r="6.15"/><circle cx="1369.6" cy="514.0" r="6.15"/><circle cx="1387.9" cy="523.6" r="6.15"/><circle cx="1391.8" cy="522.8" r="6.15"/><circle cx="1396.3" cy="521.6" r="6.15"/></g>
<rect class="sb" x="1178.71" y="283.15" width="341.25" height="42.00"/>
<text class="st" x="1349.34" y="312.70">slant_down</text>
</g>
<g id="p-slant_up">
<g fill="#1A9EFA"><circle cx="210.2" cy="626.2" r="6.15"/><circle cx="214.9" cy="621.2" r="6.15"/><circle cx="219.4" cy="620.0" r="6.15"/><circle cx="223.9" cy="613.8" r="6.15"/><circle cx="227.3" cy="615.5" r="6.15"/><circle cx="232.9" cy="613.3" r="6.15"/><circle cx="237.4" cy="606.0" r="6.15"/><circle cx="238.5" cy="611.0" r="6.15"/><circle cx="244.2" cy="608.8" r="6.15"/><circle cx="252.6" cy="604.0" r="6.15"/><circle cx="172.1" cy="638.1" r="6.15"/><circle cx="178.8" cy="640.9" r="6.15"/><circle cx="163.1" cy="649.1" r="6.15"/><circle cx="134.7" cy="664.0" r="6.15"/><circle cx="200.8" cy="661.9" r="6.15"/><circle cx="201.0" cy="665.1" r="6.15"/><circle cx="223.9" cy="657.2" r="6.15"/><circle cx="243.6" cy="645.4" r="6.15"/><circle cx="248.7" cy="643.7" r="6.15"/><circle cx="253.2" cy="640.3" r="6.15"/><circle cx="263.3" cy="632.4" r="6.15"/><circle cx="268.4" cy="629.0" r="6.15"/><circle cx="164.2" cy="676.9" r="6.15"/><circle cx="168.7" cy="678.6" r="6.15"/><circle cx="176.0" cy="675.2" r="6.15"/><circle cx="180.0" cy="677.7" r="6.15"/><circle cx="150.7" cy="688.7" r="6.15"/><circle cx="151.2" cy="691.0" r="6.15"/><circle cx="160.8" cy="688.2" r="6.15"/><circle cx="263.3" cy="690.4" r="6.15"/><circle cx="270.1" cy="689.3" r="6.15"/><circle cx="277.5" cy="630.2" r="6.15"/><circle cx="289.3" cy="624.0" r="6.15"/><circle cx="304.5" cy="616.7" r="6.15"/><circle cx="306.8" cy="614.4" r="6.15"/><circle cx="313.5" cy="609.9" r="6.15"/><circle cx="320.3" cy="603.1" r="6.15"/><circle cx="323.7" cy="658.9" r="6.15"/><circle cx="328.2" cy="654.4" r="6.15"/><circle cx="332.7" cy="650.4" r="6.15"/><circle cx="338.3" cy="651.0" r="6.15"/><circle cx="342.6" cy="652.1" r="6.15"/><circle cx="355.2" cy="646.2" r="6.15"/><circle cx="365.6" cy="639.2" r="6.15"/><circle cx="278.1" cy="678.0" r="6.15"/><circle cx="287.1" cy="678.6" r="6.15"/><circle cx="285.4" cy="671.8" r="6.15"/><circle cx="291.6" cy="670.2" r="6.15"/><circle cx="299.5" cy="675.8" r="6.15"/><circle cx="375.7" cy="685.4" r="6.15"/><circle cx="381.1" cy="687.0" r="6.15"/><circle cx="384.5" cy="685.9" r="6.15"/><circle cx="137.7" cy="697.4" r="6.15"/><circle cx="161.2" cy="735.1" r="6.15"/><circle cx="172.1" cy="739.3" r="6.15"/><circle cx="174.3" cy="735.4" r="6.15"/><circle cx="177.2" cy="730.3" r="6.15"/><circle cx="183.3" cy="732.0" r="6.15"/><circle cx="185.0" cy="725.2" r="6.15"/><circle cx="194.6" cy="727.5" r="6.15"/><circle cx="195.7" cy="722.4" r="6.15"/><circle cx="200.2" cy="717.9" r="6.15"/><circle cx="213.8" cy="711.1" r="6.15"/><circle cx="219.4" cy="715.7" r="6.15"/><circle cx="222.2" cy="709.5" r="6.15"/><circle cx="227.3" cy="712.3" r="6.15"/><circle cx="231.8" cy="703.8" r="6.15"/><circle cx="236.8" cy="707.2" r="6.15"/><circle cx="241.9" cy="698.8" r="6.15"/><circle cx="247.5" cy="695.4" r="6.15"/><circle cx="252.1" cy="698.8" r="6.15"/><circle cx="257.7" cy="694.3" r="6.15"/><circle cx="266.7" cy="692.6" r="6.15"/><circle cx="215.4" cy="766.3" r="6.15"/><circle cx="218.8" cy="772.5" r="6.15"/><circle cx="229.5" cy="765.2" r="6.15"/><circle cx="234.6" cy="761.8" r="6.15"/><circle cx="240.8" cy="760.7" r="6.15"/><circle cx="245.3" cy="755.1" r="6.15"/><circle cx="250.9" cy="757.3" r="6.15"/><circle cx="251.5" cy="752.8" r="6.15"/><circle cx="257.7" cy="753.4" r="6.15"/><circle cx="261.1" cy="746.1" r="6.15"/><circle cx="268.4" cy="747.8" r="6.15"/><circle cx="268.9" cy="742.1" r="6.15"/><circle cx="260.5" cy="780.4" r="6.15"/><circle cx="265.6" cy="778.7" r="6.15"/><circle cx="351.8" cy="701.9" r="6.15"/><circle cx="362.0" cy="701.2" r="6.15"/><circle cx="382.8" cy="720.2" r="6.15"/><circle cx="385.1" cy="717.9" r="6.15"/><circle cx="399.7" cy="717.3" r="6.15"/><circle cx="400.3" cy="720.2" r="6.15"/><circle cx="407.0" cy="716.2" r="6.15"/><circle cx="408.2" cy="710.0" r="6.15"/><circle cx="418.3" cy="704.4" r="6.15"/><circle cx="281.4" cy="738.2" r="6.15"/><circle cx="288.2" cy="738.2" r="6.15"/><circle cx="289.9" cy="735.4" r="6.15"/><circle cx="294.4" cy="728.0" r="6.15"/><circle cx="300.0" cy="729.7" r="6.15"/><circle cx="306.8" cy="725.2" r="6.15"/><circle cx="309.0" cy="721.8" r="6.15"/><circle cx="318.6" cy="716.8" r="6.15"/><circle cx="279.2" cy="781.0" r="6.15"/><circle cx="283.1" cy="777.6" r="6.15"/><circle cx="275.3" cy="775.3" r="6.15"/><circle cx="284.3" cy="770.3" r="6.15"/><circle cx="291.0" cy="770.8" r="6.15"/><circle cx="291.6" cy="766.3" r="6.15"/><circle cx="298.9" cy="764.1" r="6.15"/><circle cx="302.3" cy="759.6" r="6.15"/><circle cx="306.8" cy="759.6" r="6.15"/><circle cx="316.9" cy="753.9" r="6.15"/><circle cx="317.5" cy="757.3" r="6.15"/><circle cx="327.1" cy="754.5" r="6.15"/><circle cx="332.7" cy="752.3" r="6.15"/><circle cx="334.4" cy="745.8" r="6.15"/><circle cx="241.9" cy="695.5" r="6.15"/><circle cx="255.4" cy="692.1" r="6.15"/><circle cx="186.7" cy="723.7" r="6.15"/><circle cx="271.2" cy="773.2" r="6.15"/></g>
<rect class="sb" x="102.85" y="550.05" width="341.25" height="42.00"/>
<text class="st" x="273.48" y="579.60">slant_up</text>
<path class="ax" d="M101.50 593.40V800.60"/>
<path class="tk" d="M94.17 791.21H101.50"/>
<text class="ty" x="87.90" y="800.31">0</text>
<path class="tk" d="M94.17 743.97H101.50"/>
<text class="ty" x="87.90" y="753.07">25</text>
<path class="tk" d="M94.17 696.73H101.50"/>
<text class="ty" x="87.90" y="705.83">50</text>
<path class="tk" d="M94.17 649.48H101.50"/>
<text class="ty" x="87.90" y="658.58">75</text>
<path class="tk" d="M94.17 602.24H101.50"/>
<text class="ty" x="87.90" y="611.34">100</text>
</g>
<g id="p-star">
<g fill="#787AFD"><circle cx="519.3" cy="672.4" r="6.15"/><circle cx="523.2" cy="671.3" r="6.15"/><circle cx="527.7" cy="671.8" r="6.15"/><circle cx="526.6" cy="675.8" r="6.15"/><circle cx="528.8" cy="678.0" r="6.15"/><circle cx="532.8" cy="676.3" r="6.15"/><circle cx="536.7" cy="680.3" r="6.15"/><circle cx="539.5" cy="672.4" r="6.15"/><circle cx="546.6" cy="684.5" r="6.15"/><circle cx="636.9" cy="616.9" r="6.15"/><circle cx="634.3" cy="620.6" r="6.15"/><circle cx="632.1" cy="624.0" r="6.15"/><circle cx="630.4" cy="626.8" r="6.15"/><circle cx="631.5" cy="629.6" r="6.15"/><circle cx="642.2" cy="625.7" r="6.15"/><circle cx="638.8" cy="621.2" r="6.15"/><circle cx="625.9" cy="639.7" r="6.15"/><circle cx="622.5" cy="644.8" r="6.15"/><circle cx="624.2" cy="642.0" r="6.15"/><circle cx="653.5" cy="644.5" r="6.15"/><circle cx="651.8" cy="648.2" r="6.15"/><circle cx="654.0" cy="651.0" r="6.15"/><circle cx="658.6" cy="658.9" r="6.15"/><circle cx="660.2" cy="663.4" r="6.15"/><circle cx="662.2" cy="667.3" r="6.15"/><circle cx="566.5" cy="672.6" r="6.15"/><circle cx="580.3" cy="672.1" r="6.15"/><circle cx="602.6" cy="671.1" r="6.15"/><circle cx="677.5" cy="672.1" r="6.15"/><circle cx="689.5" cy="672.1" r="6.15"/><circle cx="709.2" cy="671.8" r="6.15"/><circle cx="716.6" cy="671.6" r="6.15"/><circle cx="720.5" cy="671.8" r="6.15"/><circle cx="743.5" cy="678.6" r="6.15"/><circle cx="728.3" cy="684.8" r="6.15"/><circle cx="724.4" cy="686.5" r="6.15"/><circle cx="716.5" cy="690.4" r="6.15"/><circle cx="564.9" cy="694.3" r="6.15"/><circle cx="572.8" cy="698.2" r="6.15"/><circle cx="583.2" cy="703.8" r="6.15"/><circle cx="587.2" cy="719.0" r="6.15"/><circle cx="584.0" cy="723.5" r="6.15"/><circle cx="582.9" cy="728.0" r="6.15"/><circle cx="580.1" cy="732.0" r="6.15"/><circle cx="577.3" cy="736.5" r="6.15"/><circle cx="575.0" cy="740.4" r="6.15"/><circle cx="574.4" cy="744.4" r="6.15"/><circle cx="570.5" cy="749.4" r="6.15"/><circle cx="568.8" cy="753.4" r="6.15"/><circle cx="566.6" cy="757.9" r="6.15"/><circle cx="562.6" cy="764.1" r="6.15"/><circle cx="567.1" cy="761.8" r="6.15"/><circle cx="571.6" cy="759.6" r="6.15"/><circle cx="576.7" cy="757.3" r="6.15"/><circle cx="581.8" cy="754.5" r="6.15"/><circle cx="578.4" cy="751.7" r="6.15"/><circle cx="595.1" cy="749.2" r="6.15"/><circle cx="603.7" cy="743.8" r="6.15"/><circle cx="606.5" cy="741.6" r="6.15"/><circle cx="616.7" cy="736.5" r="6.15"/><circle cx="623.4" cy="733.7" r="6.15"/><circle cx="630.2" cy="730.3" r="6.15"/><circle cx="634.8" cy="727.8" r="6.15"/><circle cx="630.9" cy="730.3" r="6.15"/><circle cx="711.4" cy="693.7" r="6.15"/><circle cx="717.0" cy="692.0" r="6.15"/><circle cx="680.2" cy="708.3" r="6.15"/><circle cx="684.9" cy="713.4" r="6.15"/><circle cx="682.7" cy="711.1" r="6.15"/><circle cx="655.1" cy="735.4" r="6.15"/><circle cx="659.0" cy="739.3" r="6.15"/><circle cx="664.1" cy="740.4" r="6.15"/><circle cx="669.2" cy="743.2" r="6.15"/><circle cx="673.4" cy="745.8" r="6.15"/><circle cx="700.9" cy="747.4" r="6.15"/><circle cx="704.1" cy="760.7" r="6.15"/><circle cx="708.0" cy="761.3" r="6.15"/><circle cx="711.4" cy="763.5" r="6.15"/></g>
<rect class="sb" x="461.47" y="550.05" width="341.25" height="42.00"/>
<text class="st" x="632.10" y="579.60">star</text>
<path class="ax" d="M460.12 801.00H804.07"/>
<path class="tk" d="M511.43 800.60V808.20"/>
<text class="tx" x="511.43" y="830.90">25</text>
<path class="tk" d="M605.92 800.60V808.20"/>
<text class="tx" x="605.92" y="830.90">50</text>
<path class="tk" d="M700.42 800.60V808.20"/>
<text class="tx" x="700.42" y="830.90">75</text>
<path class="tk" d="M794.91 800.60V808.20"/>
<text class="tx" x="794.91" y="830.90">100</text>
</g>
<g id="p-v_lines">
<g fill="#C656FB"><circle cx="890.8" cy="635.8" r="6.15"/><circle cx="890.5" cy="640.3" r="6.15"/><circle cx="890.8" cy="644.8" r="6.15"/><circle cx="890.9" cy="662.5" r="6.15"/><circle cx="890.8" cy="667.3" r="6.15"/><circle cx="890.5" cy="671.8" r="6.15"/><circle cx="891.1" cy="676.3" r="6.15"/><circle cx="890.8" cy="682.0" r="6.15"/><circle cx="890.5" cy="687.0" r="6.15"/><circle cx="890.8" cy="692.1" r="6.15"/><circle cx="965.4" cy="603.1" r="6.15"/><circle cx="965.7" cy="607.6" r="6.15"/><circle cx="965.4" cy="612.1" r="6.15"/><circle cx="966.0" cy="616.7" r="6.15"/><circle cx="966.0" cy="621.7" r="6.15"/><circle cx="965.4" cy="636.4" r="6.15"/><circle cx="965.7" cy="638.1" r="6.15"/><circle cx="965.4" cy="650.4" r="6.15"/><circle cx="965.1" cy="652.7" r="6.15"/><circle cx="965.4" cy="655.7" r="6.15"/><circle cx="966.0" cy="676.9" r="6.15"/><circle cx="965.4" cy="682.0" r="6.15"/><circle cx="964.9" cy="686.5" r="6.15"/><circle cx="890.8" cy="696.5" r="6.15"/><circle cx="890.5" cy="701.6" r="6.15"/><circle cx="890.8" cy="706.6" r="6.15"/><circle cx="890.5" cy="711.7" r="6.15"/><circle cx="890.8" cy="718.5" r="6.15"/><circle cx="890.5" cy="724.1" r="6.15"/><circle cx="890.8" cy="729.7" r="6.15"/><circle cx="890.5" cy="735.4" r="6.15"/><circle cx="890.8" cy="739.9" r="6.15"/><circle cx="890.5" cy="744.4" r="6.15"/><circle cx="890.8" cy="748.9" r="6.15"/><circle cx="890.9" cy="754.2" r="6.15"/><circle cx="965.4" cy="697.6" r="6.15"/><circle cx="964.3" cy="700.4" r="6.15"/><circle cx="965.4" cy="704.4" r="6.15"/><circle cx="963.2" cy="712.3" r="6.15"/><circle cx="966.0" cy="710.0" r="6.15"/><circle cx="966.6" cy="717.3" r="6.15"/><circle cx="964.3" cy="719.0" r="6.15"/><circle cx="965.4" cy="724.1" r="6.15"/><circle cx="966.0" cy="729.2" r="6.15"/><circle cx="964.9" cy="736.5" r="6.15"/><circle cx="965.4" cy="741.0" r="6.15"/><circle cx="964.3" cy="749.4" r="6.15"/><circle cx="966.0" cy="750.0" r="6.15"/><circle cx="964.9" cy="755.1" r="6.15"/><circle cx="964.9" cy="760.7" r="6.15"/><circle cx="966.6" cy="766.9" r="6.15"/><circle cx="964.9" cy="770.8" r="6.15"/><circle cx="966.6" cy="777.6" r="6.15"/><circle cx="965.4" cy="774.2" r="6.15"/><circle cx="964.1" cy="784.9" r="6.15"/><circle cx="1038.3" cy="607.9" r="6.15"/><circle cx="1038.3" cy="613.3" r="6.15"/><circle cx="1038.5" cy="618.3" r="6.15"/><circle cx="1038.3" cy="631.9" r="6.15"/><circle cx="1038.5" cy="636.9" r="6.15"/><circle cx="1038.5" cy="657.2" r="6.15"/><circle cx="1038.3" cy="662.8" r="6.15"/><circle cx="1038.5" cy="668.5" r="6.15"/><circle cx="1037.7" cy="676.9" r="6.15"/><circle cx="1038.5" cy="682.0" r="6.15"/><circle cx="1038.3" cy="687.0" r="6.15"/><circle cx="1038.3" cy="692.1" r="6.15"/><circle cx="1113.8" cy="673.9" r="6.15"/><circle cx="1113.8" cy="691.0" r="6.15"/><circle cx="1038.3" cy="702.1" r="6.15"/><circle cx="1038.3" cy="696.5" r="6.15"/><circle cx="1038.3" cy="727.8" r="6.15"/><circle cx="1038.3" cy="740.4" r="6.15"/><circle cx="1038.5" cy="748.3" r="6.15"/><circle cx="1038.3" cy="744.9" r="6.15"/><circle cx="1038.5" cy="760.7" r="6.15"/><circle cx="1038.3" cy="755.1" r="6.15"/><circle cx="1038.5" cy="772.5" r="6.15"/><circle cx="1038.3" cy="766.9" r="6.15"/><circle cx="1038.3" cy="779.9" r="6.15"/><circle cx="1038.5" cy="786.4" r="6.15"/><circle cx="1113.8" cy="697.6" r="6.15"/><circle cx="1114.0" cy="703.3" r="6.15"/><circle cx="1113.8" cy="708.9" r="6.15"/><circle cx="1114.0" cy="714.5" r="6.15"/><circle cx="1113.8" cy="727.8" r="6.15"/><circle cx="1113.8" cy="731.2" r="6.15"/></g>
<rect class="sb" x="820.09" y="550.05" width="341.25" height="42.00"/>
<text class="st" x="990.72" y="579.60">v_lines</text>
<path class="ax" d="M818.74 801.00H1162.69"/>
<path class="tk" d="M870.05 800.60V808.20"/>
<text class="tx" x="870.05" y="830.90">25</text>
<path class="tk" d="M964.54 800.60V808.20"/>
<text class="tx" x="964.54" y="830.90">50</text>
<path class="tk" d="M1059.04 800.60V808.20"/>
<text class="tx" x="1059.04" y="830.90">75</text>
<path class="tk" d="M1153.53 800.60V808.20"/>
<text class="tx" x="1153.53" y="830.90">100</text>
</g>
<g id="p-wide_lines">
<g fill="#F340D4"><circle cx="1282.1" cy="609.0" r="6.15"/><circle cx="1277.3" cy="614.4" r="6.15"/><circle cx="1280.7" cy="617.2" r="6.15"/><circle cx="1265.2" cy="622.1" r="6.15"/><circle cx="1287.8" cy="622.8" r="6.15"/><circle cx="1272.8" cy="628.5" r="6.15"/><circle cx="1282.4" cy="633.5" r="6.15"/><circle cx="1257.6" cy="640.1" r="6.15"/><circle cx="1264.9" cy="640.9" r="6.15"/><circle cx="1253.4" cy="645.7" r="6.15"/><circle cx="1280.7" cy="647.1" r="6.15"/><circle cx="1280.9" cy="650.4" r="6.15"/><circle cx="1237.9" cy="667.1" r="6.15"/><circle cx="1249.7" cy="667.9" r="6.15"/><circle cx="1260.7" cy="664.5" r="6.15"/><circle cx="1263.0" cy="670.2" r="6.15"/><circle cx="1251.4" cy="672.4" r="6.15"/><circle cx="1242.9" cy="678.8" r="6.15"/><circle cx="1250.3" cy="680.3" r="6.15"/><circle cx="1239.9" cy="695.1" r="6.15"/><circle cx="1257.6" cy="689.3" r="6.15"/><circle cx="1264.9" cy="688.7" r="6.15"/><circle cx="1270.0" cy="690.4" r="6.15"/><circle cx="1257.0" cy="697.7" r="6.15"/><circle cx="1274.5" cy="697.4" r="6.15"/><circle cx="1263.2" cy="697.1" r="6.15"/><circle cx="1268.8" cy="696.6" r="6.15"/><circle cx="1262.1" cy="703.9" r="6.15"/><circle cx="1268.1" cy="707.3" r="6.15"/><circle cx="1259.8" cy="719.1" r="6.15"/><circle cx="1265.5" cy="723.0" r="6.15"/><circle cx="1268.8" cy="726.4" r="6.15"/><circle cx="1242.1" cy="726.2" r="6.15"/><circle cx="1248.6" cy="730.4" r="6.15"/><circle cx="1251.9" cy="731.5" r="6.15"/><circle cx="1273.9" cy="730.9" r="6.15"/><circle cx="1275.8" cy="736.3" r="6.15"/><circle cx="1266.6" cy="732.1" r="6.15"/><circle cx="1267.7" cy="736.6" r="6.15"/><circle cx="1262.1" cy="742.8" r="6.15"/><circle cx="1263.8" cy="748.4" r="6.15"/><circle cx="1265.5" cy="753.5" r="6.15"/><circle cx="1250.6" cy="747.0" r="6.15"/><circle cx="1279.3" cy="755.4" r="6.15"/><circle cx="1271.1" cy="759.1" r="6.15"/><circle cx="1276.7" cy="764.7" r="6.15"/><circle cx="1273.3" cy="768.1" r="6.15"/><circle cx="1272.8" cy="774.3" r="6.15"/><circle cx="1277.3" cy="773.7" r="6.15"/><circle cx="1382.4" cy="604.8" r="6.15"/><circle cx="1384.1" cy="604.3" r="6.15"/><circle cx="1382.9" cy="611.0" r="6.15"/><circle cx="1382.9" cy="617.2" r="6.15"/><circle cx="1390.3" cy="618.3" r="6.15"/><circle cx="1386.3" cy="622.3" r="6.15"/><circle cx="1379.6" cy="625.7" r="6.15"/><circle cx="1377.3" cy="632.4" r="6.15"/><circle cx="1402.4" cy="627.9" r="6.15"/><circle cx="1408.3" cy="639.2" r="6.15"/><circle cx="1406.0" cy="642.6" r="6.15"/><circle cx="1381.2" cy="644.2" r="6.15"/><circle cx="1387.4" cy="647.6" r="6.15"/><circle cx="1413.9" cy="653.8" r="6.15"/><circle cx="1406.6" cy="659.5" r="6.15"/><circle cx="1388.6" cy="656.1" r="6.15"/><circle cx="1385.8" cy="663.4" r="6.15"/><circle cx="1395.1" cy="665.6" r="6.15"/><circle cx="1376.0" cy="672.4" r="6.15"/><circle cx="1389.1" cy="675.8" r="6.15"/><circle cx="1385.2" cy="671.8" r="6.15"/><circle cx="1410.2" cy="678.8" r="6.15"/><circle cx="1416.7" cy="682.5" r="6.15"/><circle cx="1382.9" cy="685.9" r="6.15"/><circle cx="1395.3" cy="686.5" r="6.15"/><circle cx="1425.7" cy="694.1" r="6.15"/><circle cx="1386.3" cy="692.6" r="6.15"/><circle cx="1393.6" cy="696.0" r="6.15"/><circle cx="1376.4" cy="699.2" r="6.15"/><circle cx="1392.5" cy="701.6" r="6.15"/><circle cx="1381.2" cy="703.9" r="6.15"/><circle cx="1394.2" cy="710.1" r="6.15"/><circle cx="1377.3" cy="712.9" r="6.15"/><circle cx="1382.9" cy="711.2" r="6.15"/><circle cx="1410.2" cy="704.1" r="6.15"/><circle cx="1417.6" cy="703.3" r="6.15"/><circle cx="1428.9" cy="704.8" r="6.15"/><circle cx="1413.1" cy="717.6" r="6.15"/><circle cx="1423.8" cy="718.8" r="6.15"/><circle cx="1419.0" cy="729.6" r="6.15"/><circle cx="1373.9" cy="719.1" r="6.15"/><circle cx="1385.2" cy="718.5" r="6.15"/><circle cx="1379.6" cy="720.8" r="6.15"/><circle cx="1370.2" cy="727.2" r="6.15"/><circle cx="1378.4" cy="728.7" r="6.15"/><circle cx="1384.9" cy="728.7" r="6.15"/><circle cx="1377.3" cy="734.3" r="6.15"/><circle cx="1394.8" cy="739.9" r="6.15"/><circle cx="1376.7" cy="741.1" r="6.15"/><circle cx="1381.8" cy="746.7" r="6.15"/><circle cx="1378.4" cy="750.1" r="6.15"/><circle cx="1407.7" cy="750.1" r="6.15"/><circle cx="1397.6" cy="754.0" r="6.15"/><circle cx="1393.1" cy="756.8" r="6.15"/><circle cx="1376.2" cy="755.7" r="6.15"/><circle cx="1382.9" cy="756.8" r="6.15"/><circle cx="1388.6" cy="759.1" r="6.15"/><circle cx="1371.4" cy="765.3" r="6.15"/><circle cx="1379.6" cy="765.8" r="6.15"/><circle cx="1387.4" cy="764.7" r="6.15"/><circle cx="1393.6" cy="766.4" r="6.15"/><circle cx="1384.1" cy="771.5" r="6.15"/><circle cx="1393.6" cy="775.4" r="6.15"/><circle cx="1387.4" cy="776.0" r="6.15"/><circle cx="1380.7" cy="772.6" r="6.15"/><circle cx="1386.3" cy="782.2" r="6.15"/><circle cx="1388.6" cy="791.2" r="6.15"/><circle cx="1414.7" cy="781.4" r="6.15"/><circle cx="1391.0" cy="756.3" r="6.15"/></g>
<rect class="sb" x="1178.71" y="550.05" width="341.25" height="42.00"/>
<text class="st" x="1349.34" y="579.60">wide_lines</text>
<path class="ax" d="M1177.36 801.00H1521.31"/>
<path class="tk" d="M1228.67 800.60V808.20"/>
<text class="tx" x="1228.67" y="830.90">25</text>
<path class="tk" d="M1323.16 800.60V808.20"/>
<text class="tx" x="1323.16" y="830.90">50</text>
<path class="tk" d="M1417.66 800.60V808.20"/>
<text class="tx" x="1417.66" y="830.90">75</text>
<path class="tk" d="M1512.15 800.60V808.20"/>
<text class="tx" x="1512.15" y="830.90">100</text>
</g>
<g id="p-x_shape">
<g fill="#FA4A9E"><circle cx="216.9" cy="873.5" r="6.15"/><circle cx="193.5" cy="880.8" r="6.15"/><circle cx="203.1" cy="883.7" r="6.15"/><circle cx="175.7" cy="889.5" r="6.15"/><circle cx="182.2" cy="891.5" r="6.15"/><circle cx="186.7" cy="893.8" r="6.15"/><circle cx="189.0" cy="898.3" r="6.15"/><circle cx="194.0" cy="903.4" r="6.15"/><circle cx="191.2" cy="900.5" r="6.15"/><circle cx="199.1" cy="900.0" r="6.15"/><circle cx="205.9" cy="901.7" r="6.15"/><circle cx="216.0" cy="899.4" r="6.15"/><circle cx="210.9" cy="905.1" r="6.15"/><circle cx="207.0" cy="908.4" r="6.15"/><circle cx="208.1" cy="913.5" r="6.15"/><circle cx="213.8" cy="910.7" r="6.15"/><circle cx="217.1" cy="914.1" r="6.15"/><circle cx="223.9" cy="911.8" r="6.15"/><circle cx="218.3" cy="918.6" r="6.15"/><circle cx="222.8" cy="922.5" r="6.15"/><circle cx="226.1" cy="924.8" r="6.15"/><circle cx="229.5" cy="927.0" r="6.15"/><circle cx="234.0" cy="929.8" r="6.15"/><circle cx="237.4" cy="932.1" r="6.15"/><circle cx="241.4" cy="934.9" r="6.15"/><circle cx="246.4" cy="937.7" r="6.15"/><circle cx="249.8" cy="940.5" r="6.15"/><circle cx="254.3" cy="943.3" r="6.15"/><circle cx="258.8" cy="946.2" r="6.15"/><circle cx="263.3" cy="949.0" r="6.15"/><circle cx="266.1" cy="950.1" r="6.15"/><circle cx="345.9" cy="878.4" r="6.15"/><circle cx="357.7" cy="884.0" r="6.15"/><circle cx="378.9" cy="878.0" r="6.15"/><circle cx="381.4" cy="901.7" r="6.15"/><circle cx="366.5" cy="899.6" r="6.15"/><circle cx="371.0" cy="903.9" r="6.15"/><circle cx="363.1" cy="907.3" r="6.15"/><circle cx="362.0" cy="913.8" r="6.15"/><circle cx="338.3" cy="922.2" r="6.15"/><circle cx="350.2" cy="919.7" r="6.15"/><circle cx="349.0" cy="921.9" r="6.15"/><circle cx="329.9" cy="934.3" r="6.15"/><circle cx="333.8" cy="931.5" r="6.15"/><circle cx="338.3" cy="929.8" r="6.15"/><circle cx="318.6" cy="940.5" r="6.15"/><circle cx="309.6" cy="946.7" r="6.15"/><circle cx="305.7" cy="949.5" r="6.15"/><circle cx="301.7" cy="951.8" r="6.15"/><circle cx="292.1" cy="958.0" r="6.15"/><circle cx="274.1" cy="956.9" r="6.15"/><circle cx="187.3" cy="1050.0" r="6.15"/><circle cx="187.3" cy="1032.8" r="6.15"/><circle cx="196.3" cy="1024.9" r="6.15"/><circle cx="200.2" cy="1035.6" r="6.15"/><circle cx="213.2" cy="1035.6" r="6.15"/><circle cx="198.0" cy="1030.0" r="6.15"/><circle cx="204.7" cy="1028.8" r="6.15"/><circle cx="204.7" cy="1017.6" r="6.15"/><circle cx="209.8" cy="1013.1" r="6.15"/><circle cx="208.1" cy="1022.1" r="6.15"/><circle cx="213.8" cy="1019.8" r="6.15"/><circle cx="217.1" cy="1018.7" r="6.15"/><circle cx="219.4" cy="1015.3" r="6.15"/><circle cx="224.5" cy="1014.2" r="6.15"/><circle cx="214.9" cy="1011.9" r="6.15"/><circle cx="225.0" cy="1002.9" r="6.15"/><circle cx="229.5" cy="1000.1" r="6.15"/><circle cx="235.2" cy="999.0" r="6.15"/><circle cx="236.3" cy="997.3" r="6.15"/><circle cx="240.8" cy="993.9" r="6.15"/><circle cx="244.2" cy="991.1" r="6.15"/><circle cx="247.5" cy="988.8" r="6.15"/><circle cx="250.9" cy="986.6" r="6.15"/><circle cx="254.3" cy="984.3" r="6.15"/><circle cx="257.7" cy="982.7" r="6.15"/><circle cx="259.9" cy="981.0" r="6.15"/><circle cx="298.0" cy="974.2" r="6.15"/><circle cx="302.3" cy="977.0" r="6.15"/><circle cx="306.0" cy="978.7" r="6.15"/><circle cx="323.1" cy="989.4" r="6.15"/><circle cx="327.6" cy="992.8" r="6.15"/><circle cx="331.6" cy="995.6" r="6.15"/><circle cx="342.3" cy="1002.4" r="6.15"/><circle cx="346.8" cy="1004.6" r="6.15"/><circle cx="349.6" cy="1006.3" r="6.15"/><circle cx="343.4" cy="1011.9" r="6.15"/><circle cx="347.3" cy="1015.3" r="6.15"/><circle cx="348.5" cy="1018.7" r="6.15"/><circle cx="351.8" cy="1010.8" r="6.15"/><circle cx="355.8" cy="1010.2" r="6.15"/><circle cx="358.6" cy="1017.6" r="6.15"/><circle cx="360.9" cy="1022.1" r="6.15"/><circle cx="367.6" cy="1020.9" r="6.15"/><circle cx="366.5" cy="1027.1" r="6.15"/><circle cx="378.1" cy="1031.6" r="6.15"/><circle cx="356.9" cy="1038.4" r="6.15"/><circle cx="362.8" cy="1042.9" r="6.15"/><circle cx="376.1" cy="1041.8" r="6.15"/><circle cx="222.2" cy="1008.6" r="6.15"/><circle cx="218.3" cy="1008.0" r="6.15"/><circle cx="209.8" cy="1028.3" r="6.15"/></g>
<rect class="sb" x="102.85" y="816.95" width="341.25" height="42.00"/>
<text class="st" x="273.48" y="846.50">x_shape</text>
<path class="ax" d="M101.50 860.30V1067.50"/>
<path class="tk" d="M94.17 1058.11H101.50"/>
<text class="ty" x="87.90" y="1067.21">0</text>
<path class="tk" d="M94.17 1010.87H101.50"/>
<text class="ty" x="87.90" y="1019.97">25</text>
<path class="tk" d="M94.17 963.63H101.50"/>
<text class="ty" x="87.90" y="972.73">50</text>
<path class="tk" d="M94.17 916.38H101.50"/>
<text class="ty" x="87.90" y="925.48">75</text>
<path class="tk" d="M94.17 869.14H101.50"/>
<text class="ty" x="87.90" y="878.24">100</text>
<path class="ax" d="M101.50 1067.90H445.45"/>
<path class="tk" d="M152.81 1067.50V1075.10"/>
<text class="tx" x="152.81" y="1097.80">25</text>
<path class="tk" d="M247.30 1067.50V1075.10"/>
<text class="tx" x="247.30" y="1097.80">50</text>
<path class="tk" d="M341.80 1067.50V1075.10"/>
<text class="tx" x="341.80" y="1097.80">75</text>
<path class="tk" d="M436.29 1067.50V1075.10"/>
<text class="tx" x="436.29" y="1097.80">100</text>
</g>
<text class="ti" x="811.4" y="1131.6">x</text>
<text class="ti" transform="translate(36.0 564.2) rotate(-90)">y</text>
</svg></body></html>
